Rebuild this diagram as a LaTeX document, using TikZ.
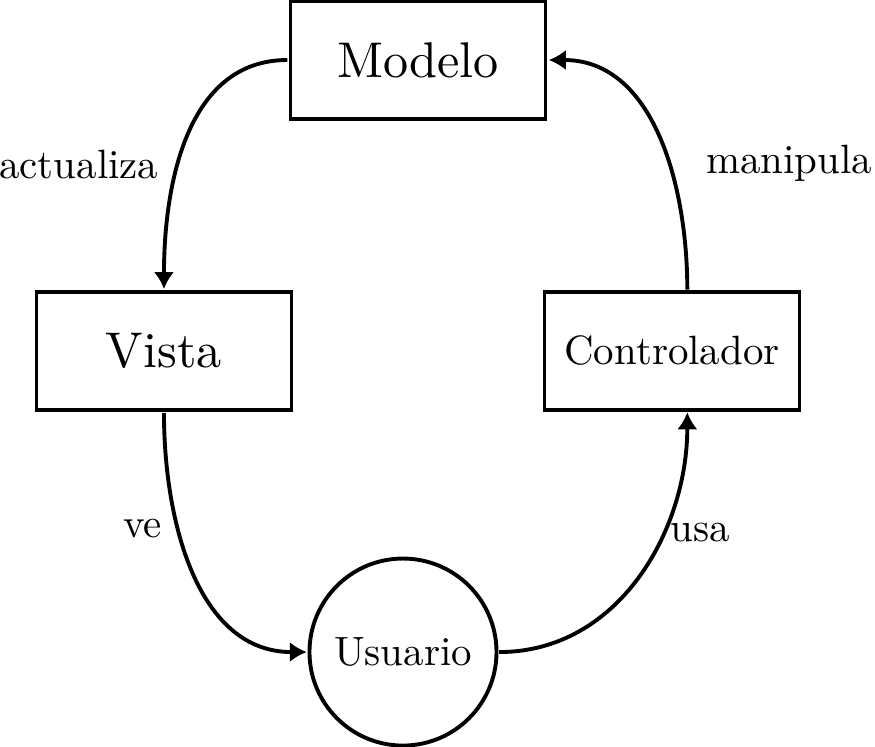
\documentclass[tikz,border=0pt]{standalone}
\usepackage{tikz}
\usetikzlibrary{arrows.meta,positioning}

\begin{document}
\begin{tikzpicture}[node distance=3cm, on grid, auto,
    every node/.style={scale=1.37},
    caja/.style={draw, line width=1.3pt, minimum width=2.19cm, minimum height=1.007cm},
    grande/.style={scale=1.226, minimum width=1.786cm, minimum height=0.821cm},
    flujo/.style={-{Latex[length=5.7pt,width=6.8pt]}, line width=1.3pt}]
        \useasboundingbox (0,0) rectangle (10.294,-8.788);
        \node[caja, grande] (modelo) at (4.918,-0.706) {Modelo};
        \node[caja, grande, below left=3.423cm and 2.989cm of modelo] (vista) {Vista};
        \node[caja, right=5.977cm of vista] (controlador) {Controlador};
        \node[draw, circle, line width=1.3pt, minimum size=1.606cm] (usuario) at (4.741,-7.671) {Usuario};

        \path[flujo] (modelo.west) edge[out=180, in=90] node[pos=0.6, left=0.04cm] {actualiza} (vista.north)
          (vista.south) edge[out=-90, in=180] node[pos=0.35, left] {ve} (usuario.west)
          (usuario.east) edge[out=0, in=-90] node[pos=0.65, right=-0.1cm] {usa} ([xshift=0.18cm]controlador.south)
          ([xshift=0.18cm]controlador.north) edge[out=90, in=0] node[pos=0.4, right=0.25cm] {manipula} (modelo.east);
      \end{tikzpicture}
\end{document}
